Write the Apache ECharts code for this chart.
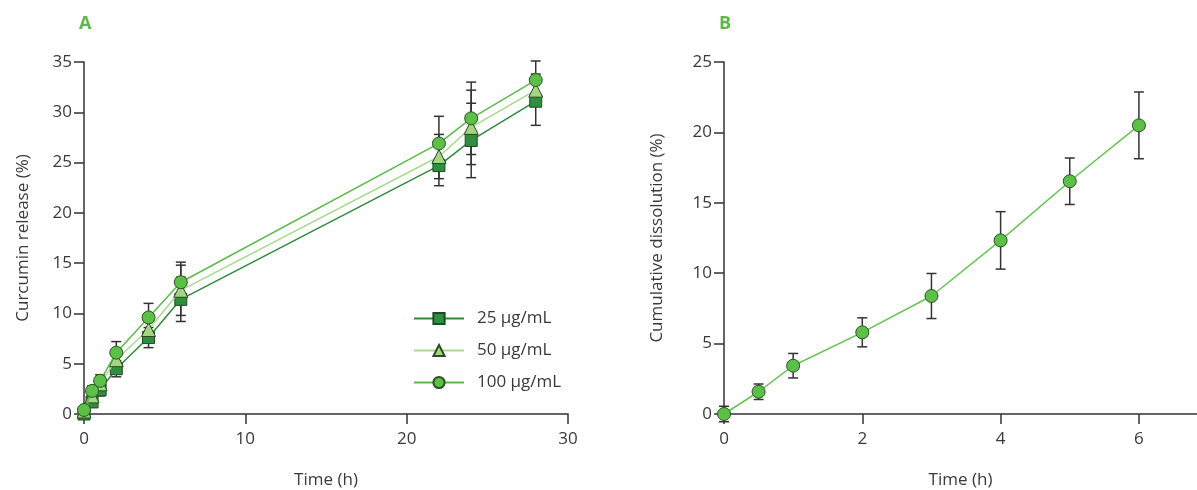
<!DOCTYPE html>
<html>
<head>
<meta charset="utf-8">
<script src="https://cdn.jsdelivr.net/npm/echarts@6/dist/echarts.min.js"></script>
<style>
  html, body { margin: 0; padding: 0; background: #fff; }
  #chart { width: 1197px; height: 490px; }
</style>
</head>
<body>
<div id="chart"></div>
<script>
// panel A - curcumin release
var timesA = [0, 0.5, 1, 2, 4, 6, 22, 24, 28];
var rel25 = [0, 1.2, 2.4, 4.5, 7.6, 11.4, 24.7, 27.2, 31.1];
var rel50 = [0.3, 1.8, 3.0, 5.4, 8.4, 12.3, 25.6, 28.5, 32.2];
var rel100 = [0.4, 2.3, 3.3, 6.1, 9.6, 13.1, 26.9, 29.4, 33.2];
var err25 = [0.3, 0.5, 0.6, 0.8, 1.0, 2.2, 2.0, 3.7, 2.4];
var err50 = [0.3, 0.5, 0.6, 0.9, 1.2, 2.5, 2.2, 3.7, 1.6];
var err100 = [0.3, 0.5, 0.6, 1.1, 1.4, 2.0, 2.7, 3.6, 1.9];
var ticksXA = [0, 10, 20, 30];

// panel B - cumulative dissolution
var timesB = [0, 0.5, 1, 2, 3, 4, 5, 6];
var dissB = [0, 1.58, 3.43, 5.8, 8.38, 12.33, 16.53, 20.5];
var errB = [0.55, 0.55, 0.87, 1.03, 1.6, 2.04, 1.65, 2.37];
var ticksXB = [0, 2, 4, 6];

var txt = '#3a3a3a';
var fnt = '"Open Sans", "Noto Sans", sans-serif';

function pairs(xs, ys) {
  return xs.map(function (x, i) { return [x, ys[i]]; });
}
function errData(xs, ys, es) {
  return xs.map(function (x, i) { return [x, ys[i] - es[i], ys[i] + es[i]]; });
}

// 误差线
function errRender(params, api) {
  var x = api.value(0);
  var top = api.coord([x, api.value(2)]);
  var bot = api.coord([x, api.value(1)]);
  var w = 5;
  var st = { stroke: '#333', lineWidth: 1.5 };
  return {
    type: 'group',
    children: [
      { type: 'line', shape: { x1: top[0], y1: top[1], x2: bot[0], y2: bot[1] }, style: st },
      { type: 'line', shape: { x1: top[0] - w, y1: top[1], x2: top[0] + w, y2: top[1] }, style: st },
      { type: 'line', shape: { x1: bot[0] - w, y1: bot[1], x2: bot[0] + w, y2: bot[1] }, style: st }
    ]
  };
}

function errSeries(idx, data) {
  return {
    type: 'custom',
    xAxisIndex: idx,
    yAxisIndex: idx,
    renderItem: errRender,
    encode: { x: 0, y: [1, 2] },
    data: data,
    z: 1,
    silent: true
  };
}

function valAxis(idx, opt) {
  var base = {
    type: 'value',
    gridIndex: idx,
    axisLine: { show: true, lineStyle: { color: '#333', width: 1.5 } },
    axisTick: { show: true, length: 10, lineStyle: { color: '#333', width: 1.5 } },
    axisLabel: { color: txt, fontSize: 17, fontFamily: fnt, margin: 12 },
    splitLine: { show: false },
    nameLocation: 'middle',
    nameTextStyle: { color: txt, fontSize: 17, fontFamily: fnt }
  };
  return Object.assign(base, opt);
}

var myChart = echarts.init(document.getElementById('chart'));

var option = {
  backgroundColor: '#fff',
  animation: false,
  title: [
    { text: 'A', left: 74, top: 10, textStyle: { color: '#5cb947', fontSize: 18, fontWeight: 'bold', fontFamily: fnt } },
    { text: 'B', left: 714, top: 10, textStyle: { color: '#5cb947', fontSize: 18, fontWeight: 'bold', fontFamily: fnt } }
  ],
  grid: [
    { left: 84, top: 62, width: 484, bottom: 76, outerBoundsMode: 'none' },
    { left: 724, top: 62, right: 0, bottom: 76, outerBoundsMode: 'none' }
  ],
  legend: {
    orient: 'vertical',
    left: 408,
    top: 305,
    itemWidth: 50,
    itemHeight: 14,
    itemGap: 15,
    textStyle: { color: txt, fontSize: 17, fontFamily: fnt, padding: [0, 0, 0, 8] },
    data: ['25 μg/mL', '50 μg/mL', '100 μg/mL']
  },
  xAxis: [
    valAxis(0, {
      min: 0, max: 30,
      name: 'Time (h)', nameGap: 58,
      axisTick: { show: true, length: 10, lineStyle: { color: '#333', width: 1.5 }, customValues: ticksXA },
      axisLabel: { color: txt, fontSize: 17, fontFamily: fnt, margin: 17, customValues: ticksXA }
    }),
    valAxis(1, {
      min: 0, max: 6.84,
      name: 'Time (h)', nameGap: 58,
      axisTick: { show: true, length: 10, lineStyle: { color: '#333', width: 1.5 }, customValues: ticksXB },
      axisLabel: { color: txt, fontSize: 17, fontFamily: fnt, margin: 17, customValues: ticksXB }
    })
  ],
  yAxis: [
    valAxis(0, { min: 0, max: 35, interval: 5, name: 'Curcumin release (%)', nameGap: 52 }),
    valAxis(1, { min: 0, max: 25, interval: 5, name: 'Cumulative dissolution (%)', nameGap: 58 })
  ],
  series: [
    errSeries(0, errData(timesA, rel25, err25)),
    errSeries(0, errData(timesA, rel50, err50)),
    errSeries(0, errData(timesA, rel100, err100)),
    {
      name: '25 μg/mL', type: 'line', xAxisIndex: 0, yAxisIndex: 0,
      data: pairs(timesA, rel25),
      symbol: 'rect', symbolSize: 12, z: 3,
      lineStyle: { color: '#2e8b3e', width: 1.5 },
      itemStyle: { color: '#2f8f3f', borderColor: '#1f4a25', borderWidth: 1 }
    },
    {
      name: '50 μg/mL', type: 'line', xAxisIndex: 0, yAxisIndex: 0,
      data: pairs(timesA, rel50),
      symbol: 'triangle', symbolSize: 14, z: 4,
      lineStyle: { color: '#a9da8f', width: 1.5 },
      itemStyle: { color: '#a3d582', borderColor: '#2a4a22', borderWidth: 1 }
    },
    {
      name: '100 μg/mL', type: 'line', xAxisIndex: 0, yAxisIndex: 0,
      data: pairs(timesA, rel100),
      symbol: 'circle', symbolSize: 13, z: 5,
      lineStyle: { color: '#5bbb48', width: 1.5 },
      itemStyle: { color: '#5cbf48', borderColor: '#2a5424', borderWidth: 1 }
    },
    errSeries(1, errData(timesB, dissB, errB)),
    {
      name: 'dissolution', type: 'line', xAxisIndex: 1, yAxisIndex: 1,
      data: pairs(timesB, dissB),
      symbol: 'circle', symbolSize: 13, z: 5,
      lineStyle: { color: '#66c452', width: 1.5 },
      itemStyle: { color: '#5cbf48', borderColor: '#2a5424', borderWidth: 1 }
    }
  ]
};

myChart.setOption(option);
</script>
</body>
</html>
